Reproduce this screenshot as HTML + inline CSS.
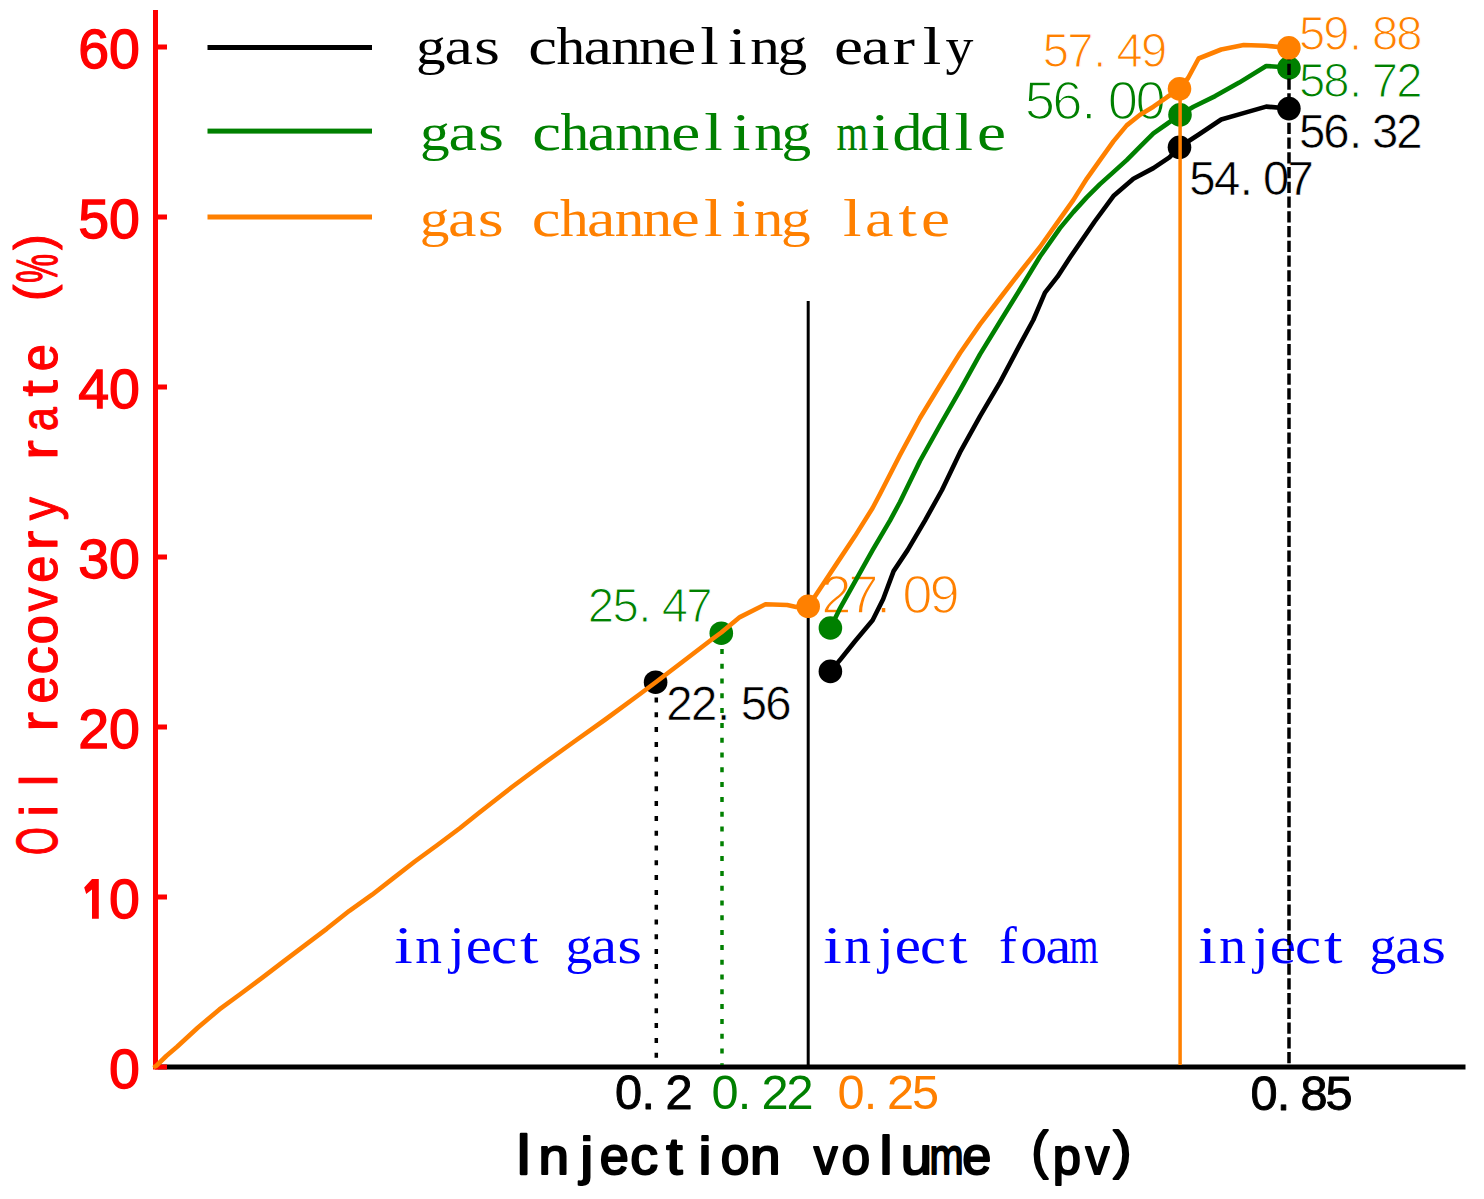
<!DOCTYPE html>
<html><head><meta charset="utf-8"><title>Oil recovery rate chart</title>
<style>
html,body{margin:0;padding:0;background:#fff;}
body{width:1484px;height:1199px;overflow:hidden;font-family:"Liberation Sans", sans-serif;}
svg{display:block;}
</style></head>
<body>
<svg width="1484" height="1199" viewBox="0 0 1484 1199">
<rect x="0" y="0" width="1484" height="1199" fill="#fff"/>
<rect x="158" y="1064.5" width="1307.5" height="5" fill="#000000"/>
<rect x="153" y="10" width="5" height="1059.5" fill="#ff0000"/>
<rect x="155" y="1064.5" width="12" height="5" fill="#ff0000"/>
<rect x="155" y="894.5" width="12" height="5" fill="#ff0000"/>
<rect x="155" y="724.5" width="12" height="5" fill="#ff0000"/>
<rect x="155" y="554.5" width="12" height="5" fill="#ff0000"/>
<rect x="155" y="384.5" width="12" height="5" fill="#ff0000"/>
<rect x="155" y="214.5" width="12" height="5" fill="#ff0000"/>
<rect x="155" y="44.5" width="12" height="5" fill="#ff0000"/>
<text x="139.9" y="1088" font-family='"Liberation Sans", sans-serif' font-size="55.5" fill="#ff0000" stroke="#ff0000" stroke-width="1.3" text-anchor="end">0</text>
<text x="139.9" y="918" font-family='"Liberation Sans", sans-serif' font-size="55.5" fill="#ff0000" stroke="#ff0000" stroke-width="1.3" text-anchor="end">0</text>
<path d="M92,879 L98.8,879 L98.8,918.8 L92,918.8 L92,889.5 L86.2,894 L84.2,887.6 Z" fill="#ff0000"/>
<text x="139.9" y="748" font-family='"Liberation Sans", sans-serif' font-size="55.5" fill="#ff0000" stroke="#ff0000" stroke-width="1.3" text-anchor="end">20</text>
<text x="139.9" y="578" font-family='"Liberation Sans", sans-serif' font-size="55.5" fill="#ff0000" stroke="#ff0000" stroke-width="1.3" text-anchor="end">30</text>
<text x="139.9" y="408" font-family='"Liberation Sans", sans-serif' font-size="55.5" fill="#ff0000" stroke="#ff0000" stroke-width="1.3" text-anchor="end">40</text>
<text x="139.9" y="238" font-family='"Liberation Sans", sans-serif' font-size="55.5" fill="#ff0000" stroke="#ff0000" stroke-width="1.3" text-anchor="end">50</text>
<text x="139.9" y="68" font-family='"Liberation Sans", sans-serif' font-size="55.5" fill="#ff0000" stroke="#ff0000" stroke-width="1.3" text-anchor="end">60</text>
<rect x="207.5" y="45" width="164.5" height="5" fill="#000000"/>
<rect x="207.5" y="128.6" width="164.5" height="5" fill="#008000"/>
<rect x="207.5" y="214.5" width="164.5" height="5" fill="#ff8000"/>
<g font-family='"Liberation Serif", serif' font-size="53.4" font-weight="normal" fill="#000000"><text transform="translate(416.05,63.6) scale(1.1117,1.0000)">g</text><text transform="translate(444.5,63.6) scale(1.1994,1.0000)">a</text><text transform="translate(474.05,63.6) scale(1.2500,1.0000)">s</text><text transform="translate(528.18,63.6) scale(1.2135,1.0000)">c</text><text transform="translate(556.39,63.6) scale(1.0717,1.0000)">h</text><text transform="translate(583.5,63.6) scale(1.1994,1.0000)">a</text><text transform="translate(611.19,63.6) scale(1.1068,1.0000)">n</text><text transform="translate(638.99,63.6) scale(1.1068,1.0000)">n</text><text transform="translate(667.15,63.6) scale(1.2244,1.0000)">e</text><text transform="translate(700.33,63.6) scale(1.2500,1.0000)">l</text><text transform="translate(728.06,63.6) scale(1.2500,1.0000)">i</text><text transform="translate(750.19,63.6) scale(1.1068,1.0000)">n</text><text transform="translate(777.45,63.6) scale(1.1117,1.0000)">g</text><text transform="translate(833.95,63.6) scale(1.2244,1.0000)">e</text><text transform="translate(861.5,63.6) scale(1.1994,1.0000)">a</text><text transform="translate(892.71,63.6) scale(1.2500,1.0000)">r</text><text transform="translate(922.73,63.6) scale(1.2500,1.0000)">l</text><text transform="translate(945.62,63.6) scale(1.0449,1.0000)">y</text></g>
<g font-family='"Liberation Serif", serif' font-size="53.4" font-weight="normal" fill="#008000"><text transform="translate(420.05,149.5) scale(1.1117,1.0000)">g</text><text transform="translate(448.5,149.5) scale(1.1994,1.0000)">a</text><text transform="translate(478.05,149.5) scale(1.2500,1.0000)">s</text><text transform="translate(532.18,149.5) scale(1.2135,1.0000)">c</text><text transform="translate(560.39,149.5) scale(1.0717,1.0000)">h</text><text transform="translate(587.5,149.5) scale(1.1994,1.0000)">a</text><text transform="translate(615.19,149.5) scale(1.1068,1.0000)">n</text><text transform="translate(642.99,149.5) scale(1.1068,1.0000)">n</text><text transform="translate(671.15,149.5) scale(1.2244,1.0000)">e</text><text transform="translate(704.33,149.5) scale(1.2500,1.0000)">l</text><text transform="translate(732.06,149.5) scale(1.2500,1.0000)">i</text><text transform="translate(754.19,149.5) scale(1.1068,1.0000)">n</text><text transform="translate(781.45,149.5) scale(1.1117,1.0000)">g</text><text transform="translate(836.59,149.5) scale(0.7655,1.0000)">m</text><text transform="translate(871.06,149.5) scale(1.2500,1.0000)">i</text><text transform="translate(892.54,149.5) scale(1.1195,1.0000)">d</text><text transform="translate(920.34,149.5) scale(1.1195,1.0000)">d</text><text transform="translate(954.53,149.5) scale(1.2500,1.0000)">l</text><text transform="translate(976.95,149.5) scale(1.2244,1.0000)">e</text></g>
<g font-family='"Liberation Serif", serif' font-size="53.4" font-weight="normal" fill="#ff8000"><text transform="translate(419.65,236) scale(1.1117,1.0000)">g</text><text transform="translate(448.1,236) scale(1.1994,1.0000)">a</text><text transform="translate(477.65,236) scale(1.2500,1.0000)">s</text><text transform="translate(531.78,236) scale(1.2135,1.0000)">c</text><text transform="translate(559.99,236) scale(1.0717,1.0000)">h</text><text transform="translate(587.1,236) scale(1.1994,1.0000)">a</text><text transform="translate(614.79,236) scale(1.1068,1.0000)">n</text><text transform="translate(642.59,236) scale(1.1068,1.0000)">n</text><text transform="translate(670.75,236) scale(1.2244,1.0000)">e</text><text transform="translate(703.93,236) scale(1.2500,1.0000)">l</text><text transform="translate(731.66,236) scale(1.2500,1.0000)">i</text><text transform="translate(753.79,236) scale(1.1068,1.0000)">n</text><text transform="translate(781.05,236) scale(1.1117,1.0000)">g</text><text transform="translate(842.93,236) scale(1.2500,1.0000)">l</text><text transform="translate(865.1,236) scale(1.1994,1.0000)">a</text><text transform="translate(898.4,236) scale(1.2500,1.0000)">t</text><text transform="translate(920.95,236) scale(1.2244,1.0000)">e</text></g>
<g font-family='"Liberation Serif", serif' font-size="53.4" font-weight="normal" fill="#0000ff"><text transform="translate(394.24,962.7) scale(1.2500,1.0000)">i</text><text transform="translate(415.15,962.7) scale(1.0013,1.0000)">n</text><text x="449.52" y="962.7">j</text><text transform="translate(465.77,962.7) scale(1.1077,1.0000)">e</text><text transform="translate(490.95,962.7) scale(1.0978,1.0000)">c</text><text transform="translate(519.92,962.7) scale(1.2500,1.0000)">t</text><text transform="translate(565.56,962.7) scale(1.0057,1.0000)">g</text><text transform="translate(591.29,962.7) scale(1.0851,1.0000)">a</text><text transform="translate(617.36,962.7) scale(1.1945,1.0000)">s</text></g>
<g font-family='"Liberation Serif", serif' font-size="53.4" font-weight="normal" fill="#0000ff"><text transform="translate(823.24,962.7) scale(1.2500,1.0000)">i</text><text transform="translate(844.15,962.7) scale(1.0013,1.0000)">n</text><text x="878.52" y="962.7">j</text><text transform="translate(894.77,962.7) scale(1.1077,1.0000)">e</text><text transform="translate(919.95,962.7) scale(1.0978,1.0000)">c</text><text transform="translate(948.92,962.7) scale(1.2500,1.0000)">t</text><text x="998.91" y="962.7">f</text><text x="1020.43" y="962.7">o</text><text transform="translate(1045.44,962.7) scale(1.0851,1.0000)">a</text><text transform="translate(1069.59,962.7) scale(0.6926,1.0000)">m</text></g>
<g font-family='"Liberation Serif", serif' font-size="53.4" font-weight="normal" fill="#0000ff"><text transform="translate(1198.24,962.7) scale(1.2500,1.0000)">i</text><text transform="translate(1219.15,962.7) scale(1.0013,1.0000)">n</text><text x="1253.52" y="962.7">j</text><text transform="translate(1269.77,962.7) scale(1.1077,1.0000)">e</text><text transform="translate(1294.95,962.7) scale(1.0978,1.0000)">c</text><text transform="translate(1323.92,962.7) scale(1.2500,1.0000)">t</text><text transform="translate(1369.56,962.7) scale(1.0057,1.0000)">g</text><text transform="translate(1395.29,962.7) scale(1.0851,1.0000)">a</text><text transform="translate(1421.36,962.7) scale(1.1945,1.0000)">s</text></g>
<g font-family='"Liberation Sans", sans-serif' font-size="47.3" font-weight="normal" fill="#008000" stroke="#fff" stroke-width="1.2"><text x="587.85" y="622">2</text><text x="612.49" y="622">5</text><text x="638.33" y="622">.</text><text x="661.8" y="622">4</text><text x="686.22" y="622">7</text></g>
<g font-family='"Liberation Sans", sans-serif' font-size="47.3" font-weight="normal" fill="#000000" stroke="#fff" stroke-width="0.6"><text x="666.25" y="720.3">2</text><text x="691.05" y="720.3">2</text><text x="717.03" y="720.3">.</text><text x="740.69" y="720.3">5</text><text x="765.29" y="720.3">6</text></g>
<g font-family='"Liberation Sans", sans-serif' font-size="54.4" font-weight="normal" fill="#ff8000" stroke="#fff" stroke-width="1.6"><text x="821.37" y="613.4">2</text><text x="848.35" y="613.4">7</text><text x="875.94" y="613.4">.</text><text x="902.37" y="613.4">0</text><text x="929.39" y="613.4">9</text></g>
<g font-family='"Liberation Sans", sans-serif' font-size="54.4" font-weight="normal" fill="#008000" stroke="#fff" stroke-width="1.6"><text x="1024.68" y="118.6">5</text><text x="1052.14" y="118.6">6</text><text x="1081.24" y="118.6">.</text><text x="1107.72" y="118.6">0</text><text x="1135.42" y="118.6">0</text></g>
<g font-family='"Liberation Sans", sans-serif' font-size="47.3" font-weight="normal" fill="#ff8000" stroke="#fff" stroke-width="1.2"><text x="1042.69" y="66.8">5</text><text x="1067.22" y="66.8">7</text><text x="1093.13" y="66.8">.</text><text x="1116.6" y="66.8">4</text><text x="1141.06" y="66.8">9</text></g>
<g font-family='"Liberation Sans", sans-serif' font-size="47.3" font-weight="normal" fill="#ff8000" stroke="#fff" stroke-width="1.2"><text x="1299.04" y="50.2">5</text><text x="1323.31" y="50.2">9</text><text x="1349.03" y="50.2">.</text><text x="1371.9" y="50.2">8</text><text x="1396.2" y="50.2">8</text></g>
<g font-family='"Liberation Sans", sans-serif' font-size="47.3" font-weight="normal" fill="#008000" stroke="#fff" stroke-width="1.2"><text x="1299.04" y="97">5</text><text x="1323.3" y="97">8</text><text x="1349.03" y="97">.</text><text x="1371.87" y="97">7</text><text x="1396.2" y="97">2</text></g>
<g font-family='"Liberation Sans", sans-serif' font-size="47.3" font-weight="normal" fill="#000000" stroke="#fff" stroke-width="0.6"><text x="1299.04" y="147.7">5</text><text x="1323.14" y="147.7">6</text><text x="1349.03" y="147.7">.</text><text x="1372.04" y="147.7">3</text><text x="1396.2" y="147.7">2</text></g>
<g font-family='"Liberation Sans", sans-serif' font-size="47.3" font-weight="normal" fill="#000000" stroke="#fff" stroke-width="0.6"><text x="1189.19" y="194.8">5</text><text x="1213.9" y="194.8">4</text><text x="1239.63" y="194.8">.</text><text x="1262.95" y="194.8">0</text><text x="1287.52" y="194.8">7</text></g>
<g font-family='"Liberation Sans", sans-serif' font-size="48.7" font-weight="normal" fill="#000000" stroke="#000000" stroke-width="0.9" stroke-linejoin="round"><text x="615.06" y="1109.3">0</text><text x="641.43" y="1109.3">.</text><text x="665.46" y="1109.3">2</text></g>
<g font-family='"Liberation Sans", sans-serif' font-size="48.7" font-weight="normal" fill="#008000"><text x="711.46" y="1109.3">0</text><text x="737.73" y="1109.3">.</text><text x="761.46" y="1109.3">2</text><text x="786.46" y="1109.3">2</text></g>
<g font-family='"Liberation Sans", sans-serif' font-size="48.7" font-weight="normal" fill="#ff8000"><text x="837.46" y="1109.3">0</text><text x="863.63" y="1109.3">.</text><text x="887.06" y="1109.3">2</text><text x="911.91" y="1109.3">5</text></g>
<g font-family='"Liberation Sans", sans-serif' font-size="48.7" font-weight="normal" fill="#000000" stroke="#000000" stroke-width="0.9" stroke-linejoin="round"><text x="1250.46" y="1109.5">0</text><text x="1276.73" y="1109.5">.</text><text x="1300.46" y="1109.5">8</text><text x="1325.51" y="1109.5">5</text></g>
<line x1="656.3" y1="683" x2="656.3" y2="1065" stroke="#000000" stroke-width="3.5" stroke-dasharray="5 9.8" stroke-dashoffset="0.3"/>
<line x1="722" y1="633" x2="722" y2="1065" stroke="#008000" stroke-width="3.5" stroke-dasharray="5 9.8" stroke-dashoffset="13.7"/>
<line x1="808.2" y1="301" x2="808.2" y2="1065" stroke="#000000" stroke-width="3"/>
<polyline points="830.4,671.4 841,658.7 855,641.2 872.6,620.2 883.1,599.2 893.6,571.1 907.6,550.1 925.1,520.3 942,490 960.1,452.2 980.1,416.2 1000.1,382.1 1020.2,344.1 1033.3,320 1045,292.6 1057.5,276.7 1070,257.5 1094.7,221.5 1113.4,196.1 1133.4,178.8 1153.4,168.1 1169.4,157.4 1179.5,147 1198.8,134.5 1221.2,119.5 1245.2,112.6 1266.2,106.6 1288.7,108.5" fill="none" stroke="#000000" stroke-width="4.6" stroke-linejoin="round" stroke-linecap="round"/>
<polyline points="830.4,628 839.3,609.7 855,581.6 872.6,550.1 890.1,520.3 900,502 920,461 940.1,425 960.1,390.2 980.1,354.1 1000.1,321.5 1020.2,289 1040,256.5 1060,228.1 1073.3,212.1 1086.7,197.4 1100,184.1 1113.4,172.1 1126.7,160.1 1140.1,146.7 1153.4,133.4 1166.8,124 1180,114.7 1193.5,106.7 1215.2,96.1 1239.2,82.6 1266.2,66 1288.7,67.5" fill="none" stroke="#008000" stroke-width="4.6" stroke-linejoin="round" stroke-linecap="round"/>
<circle cx="655.6" cy="682.2" r="11.8" fill="#000000"/>
<circle cx="830.4" cy="671.4" r="11.8" fill="#000000"/>
<circle cx="1179.5" cy="147.3" r="11.8" fill="#000000"/>
<circle cx="1288.9" cy="108.6" r="11.8" fill="#000000"/>
<circle cx="721.3" cy="633.2" r="11.8" fill="#008000"/>
<circle cx="830.4" cy="628" r="11.8" fill="#008000"/>
<circle cx="1180" cy="114.8" r="11.8" fill="#008000"/>
<circle cx="1288.9" cy="68" r="11.8" fill="#008000"/>
<line x1="1289" y1="48" x2="1289" y2="1065" stroke="#000000" stroke-width="3.5" stroke-dasharray="11.2 3.55" stroke-dashoffset="13.75"/>
<polyline points="155,1066.5 156.5,1065.7 166.3,1056 177.1,1046.8 197.7,1027.8 219.4,1009.4 241.1,993.5 262.7,977.4 283.3,961.7 306.1,944.3 326.7,928.8 349.4,910.8 372.1,894.7 393.4,878.1 414.8,861.5 437.4,845 460.1,828 478.8,813 512,787 545.8,762 575,741 605.3,719.5 640,694 655.4,682.5 678.4,665 711.7,639.5 721.3,632.5 739.9,617.1 765.5,604.3 787.2,605 796.2,606.9 808.4,606.2" fill="none" stroke="#ff8000" stroke-width="4.6" stroke-linejoin="round" stroke-linecap="round"/>
<polyline points="808.4,606.2 823.5,583.4 837.5,562.4 855,536.1 872.6,508 880,494 900,455 920,418 940.1,385 960.1,353 980.1,324.1 1000.1,298 1020.2,272 1040,247 1060,218.8 1073.3,200.1 1086.7,178.8 1100,160.1 1113.4,141.4 1126.7,125.4 1140.1,114.7 1153.4,106.7 1166.8,97.3 1179.5,89 1188.1,78 1198.6,58.5 1221.2,49.5 1243.7,45 1266.2,45.8 1288.7,48" fill="none" stroke="#ff8000" stroke-width="4.6" stroke-linejoin="round" stroke-linecap="round"/>
<line x1="1180.1" y1="89" x2="1180.1" y2="1065" stroke="#ff8000" stroke-width="3.5"/>
<circle cx="808.2" cy="606.3" r="11.8" fill="#ff8000"/>
<circle cx="1179.5" cy="88.8" r="11.8" fill="#ff8000"/>
<circle cx="1288.9" cy="47.8" r="11.8" fill="#ff8000"/>
<g font-family='"Liberation Sans", sans-serif' font-size="51" font-weight="normal" fill="#000000" stroke="#000000" stroke-width="2" stroke-linejoin="round"><text transform="translate(515.55,1174) scale(1.1500,1.1400)">I</text><text transform="translate(538.61,1174) scale(1.0755,1.0000)">n</text><text transform="translate(580.28,1174) scale(1.1500,1.0000)">j</text><text transform="translate(599.83,1174) scale(1.0238,1.0000)">e</text><text transform="translate(630.14,1174) scale(1.0915,1.0000)">c</text><text transform="translate(666.32,1174) scale(1.1500,1.0000)">t</text><text transform="translate(698.4,1174) scale(1.1500,1.0000)">i</text><text transform="translate(720.79,1174) scale(1.0091,1.0000)">o</text><text transform="translate(750.01,1174) scale(1.0755,1.0000)">n</text><text transform="translate(813.79,1174) scale(0.9343,1.0000)">v</text><text transform="translate(841.59,1174) scale(1.0091,1.0000)">o</text><text transform="translate(879.57,1174) scale(1.1500,1.0683)">l</text><text transform="translate(900.63,1174) scale(1.1078,1.0000)">u</text><text transform="translate(929.43,1174) scale(0.8031,1.0000)">m</text><text transform="translate(962.23,1174) scale(1.0238,1.0000)">e</text><text transform="translate(1031.44,1168) scale(0.9836,1.0000)">(</text><text transform="translate(1052.63,1174) scale(0.9941,1.0000)">p</text><text transform="translate(1085.59,1174) scale(0.9343,1.0000)">v</text><text transform="translate(1113.13,1168) scale(1.0723,1.0000)">)</text></g>
<g transform="translate(56.8,856.1) rotate(-90)">
<g font-family='"Liberation Sans", sans-serif' font-size="51" font-weight="normal" fill="#ff0000" stroke="#ff0000" stroke-width="1.1" stroke-linejoin="round"><text transform="translate(1.21,0) scale(0.7009,1.1237)">O</text><text x="39.65" y="0">i</text><text x="69.82" y="0">l</text><text transform="translate(124.67,0) scale(1.1500,1.0000)">r</text><text transform="translate(152.58,0) scale(0.9569,1.0000)">e</text><text transform="translate(181.7,0) scale(1.1097,1.0000)">c</text><text transform="translate(211.72,0) scale(1.0423,1.0000)">o</text><text transform="translate(244.69,0) scale(0.9423,1.0000)">v</text><text transform="translate(273.38,0) scale(0.9569,1.0000)">e</text><text transform="translate(305.87,0) scale(1.1500,1.0000)">r</text><text transform="translate(335.74,0) scale(0.9060,1.0000)">y</text><text transform="translate(396.47,0) scale(1.1500,1.0000)">r</text><text transform="translate(425.14,0) scale(0.8360,1.0000)">a</text><text transform="translate(459.72,0) scale(1.1500,1.0000)">t</text><text transform="translate(484.78,0) scale(0.9569,1.0000)">e</text><text transform="translate(555.09,-6) scale(0.9688,1.0000)">(</text><text transform="translate(573.3,0) scale(0.6353,1.1237)">%</text><text transform="translate(606.13,-6) scale(0.9170,1.0000)">)</text></g>
</g>
</svg>
</body></html>
